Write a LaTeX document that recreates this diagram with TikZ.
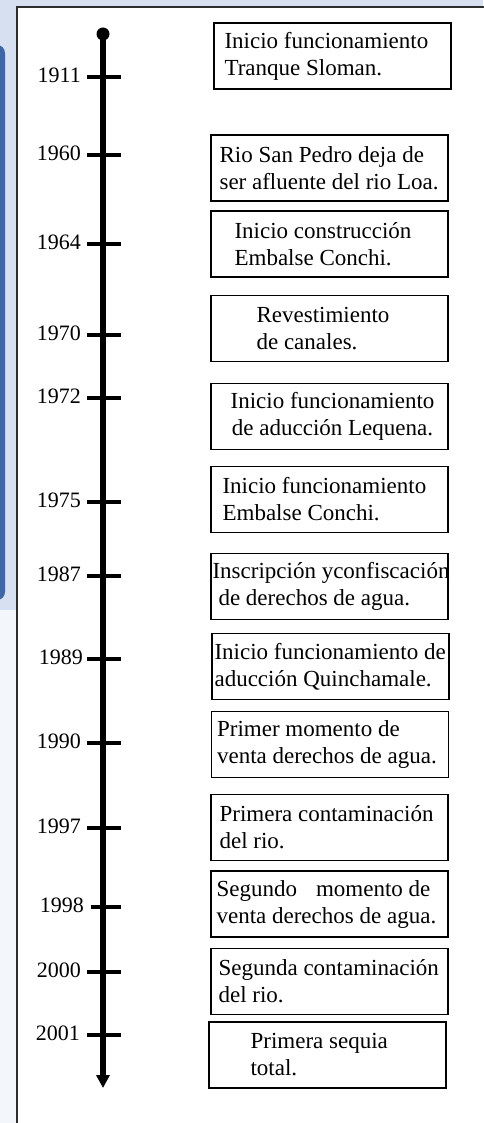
\documentclass[tikz,border=0pt]{standalone}
\usepackage{fontspec}
\setmainfont{Liberation Serif}
\usetikzlibrary{arrows.meta}

\definecolor{slidebg}{RGB}{214,224,240}
\definecolor{slideband}{RGB}{62,102,164}
\definecolor{panelline}{RGB}{45,45,45}

\begin{document}
\begin{tikzpicture}[x=1pt, y=-1pt,
    evbox/.style={draw, line width=1.3pt, minimum width=237pt, minimum height=66pt, inner sep=0pt},
    evtext/.style={anchor=west, align=left, inner sep=0pt, font=\fontsize{23}{27}\selectfont},
    yearlbl/.style={anchor=east, inner sep=0pt, yshift=2pt, font=\fontsize{22}{26}\selectfont},
    yeartick/.style={line width=3.5pt}]
  \useasboundingbox (0,0) rectangle (483,1123);

  % slide background and white panel
  \fill[slidebg] (0,0) rectangle (483,1123);
  \fill[slideband, rounded corners=8pt] (-20,45) rectangle (5,600);
  \fill[white!70!slidebg] (-5,610) rectangle (17,1123);
  \filldraw[fill=white, draw=panelline, line width=1.2pt] (17,7) rectangle (495,1135);

  % time axis
  \coordinate (top) at (103,34);
  \coordinate (bot) at (103,1088);
  \draw[line width=5.5pt, -{Triangle[width=13pt, length=13pt]}] (top) -- (bot);
  \fill (top) circle (6.5pt);

  % years
  \draw[yeartick] (87,77) -- (121,77);
  \node[yearlbl] (y1911) at (81,77) {1911};
  \draw[yeartick] (87,155) -- (121,155);
  \node[yearlbl] (y1960) at (81,155) {1960};
  \draw[yeartick] (87,244) -- (121,244);
  \node[yearlbl] (y1964) at (81,244) {1964};
  \draw[yeartick] (87,335) -- (121,335);
  \node[yearlbl] (y1970) at (81,335) {1970};
  \draw[yeartick] (87,398) -- (121,398);
  \node[yearlbl] (y1972) at (81,398) {1972};
  \draw[yeartick] (87,502) -- (121,502);
  \node[yearlbl] (y1975) at (81,502) {1975};
  \draw[yeartick] (87,576) -- (121,576);
  \node[yearlbl] (y1987) at (81,576) {1987};
  \draw[yeartick] (87,659) -- (121,659);
  \node[yearlbl] (y1989) at (83,659) {1989};
  \draw[yeartick] (87,743) -- (121,743);
  \node[yearlbl] (y1990) at (81,743) {1990};
  \draw[yeartick] (87,828) -- (121,828);
  \node[yearlbl] (y1997) at (81,828) {1997};
  \draw[yeartick] (91,907) -- (121,907);
  \node[yearlbl] (y1998) at (84,907) {1998};
  \draw[yeartick] (87,972) -- (121,972);
  \node[yearlbl] (y2000) at (81,972) {2000};
  \draw[yeartick] (87,1035) -- (121,1035);
  \node[yearlbl] (y2001) at (80,1035) {2001};

  % events
  \node[evbox] (b1) at (332.5,56) {};
  \node[evtext] (t1) at ([xshift=11pt]b1.west) {Inicio funcionamiento\\Tranque Sloman.};
  \node[evbox] (b2) at (329.5,168) {};
  \node[evtext] (t2) at ([xshift=9pt]b2.west) {Rio San Pedro deja de\\ser afluente del rio Loa.};
  \node[evbox] (b3) at (329.5,244) {};
  \node[evtext] (t3) at ([xshift=24pt]b3.west) {Inicio construcción\\Embalse Conchi.};
  \node[evbox] (b4) at (329.5,328.5) {};
  \node[evtext] (t4) at ([xshift=46pt]b4.west) {Revestimiento\\de canales.};
  \node[evbox] (b5) at (329.5,416.5) {};
  \node[evtext, anchor=center, align=center] (t5) at ([xshift=3pt]b5.center) {Inicio funcionamiento\\de aducción Lequena.};
  \node[evbox] (b6) at (329.5,499.5) {};
  \node[evtext] (t6) at ([xshift=12pt]b6.west) {Inicio funcionamiento\\Embalse Conchi.};
  \node[evbox] (b7) at (329.5,586.5) {};
  \node[evtext] (t7) at ([xshift=2pt]b7.west) {Inscripción yconfiscación\\\hspace*{6pt}de derechos de agua.};
  \node[evbox] (b8) at (330.5,666.5) {};
  \node[evtext] (t8) at ([xshift=3pt]b8.west) {Inicio funcionamiento de\\aducción Quinchamale.};
  \node[evbox] (b9) at (330,744.5) {};
  \node[evtext] (t9) at ([xshift=6pt]b9.west) {Primer momento de\\venta derechos de agua.};
  \node[evbox] (b10) at (329.5,827.5) {};
  \node[evtext] (t10) at ([xshift=9pt]b10.west) {Primera contaminación\\del rio.};
  \node[evbox] (b11) at (329.5,904) {};
  \node[evtext] (t11) at ([xshift=6pt]b11.west) {Segundo\hspace{19pt}momento de\\venta derechos de agua.};
  \node[evbox] (b12) at (329.5,981.5) {};
  \node[evtext] (t12) at ([xshift=8pt]b12.west) {Segunda contaminación\\del rio.};
  \node[evbox] (b13) at (327.5,1055) {};
  \node[evtext] (t13) at ([xshift=42pt]b13.west) {Primera sequia\\total.};
\end{tikzpicture}
\end{document}
